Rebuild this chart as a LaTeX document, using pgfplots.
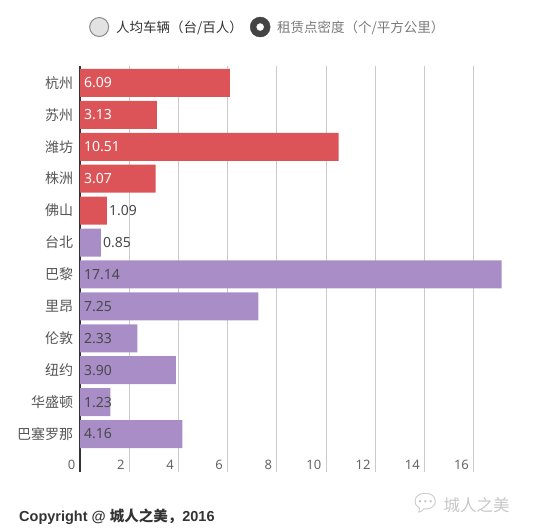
\documentclass[border=0pt]{standalone}
\usepackage{fontspec}
\setmainfont{Noto Sans}
\newfontfamily\cjk{Noto Sans CJK SC}
\newfontfamily\boldsans{Liberation Sans}
\newfontfamily\emoji{Noto Emoji}
\usepackage{pgfplots}
\pgfplotsset{compat=1.18}
\definecolor{barred}{HTML}{DC5458}
\definecolor{barpurple}{HTML}{A98DC7}
\definecolor{gridgray}{HTML}{CACACA}
\definecolor{labdark}{HTML}{4A4A4A}
\definecolor{tickgray}{HTML}{666666}
\definecolor{catgray}{HTML}{555555}
\definecolor{lgfill}{HTML}{E2E2E2}
\definecolor{lgline}{HTML}{8A8A8A}
\definecolor{lgdark}{HTML}{444444}
\definecolor{lgtext}{HTML}{333333}
\definecolor{lgtexttwo}{HTML}{7A7A7A}
\begin{document}
\begin{tikzpicture}
\path[use as bounding box] (0,0) rectangle (535pt,530pt);
\begin{axis}[
  at={(80pt,58pt)}, anchor=south west,
  scale only axis, width=442.8pt, height=406pt,
  xmin=0, xmax=18, ymin=-0.53, ymax=12.19, y dir=reverse,
  axis x line*=bottom, axis y line*=left,
  x axis line style={draw=none},
  y axis line style={draw=black!80, line width=1.4pt},
  xtick={0,2,...,16}, ytick={0,...,11},
  yticklabels={杭州,苏州,潍坊,株洲,佛山,台北,巴黎,里昂,伦敦,纽约,华盛顿,巴塞罗那},
  major tick length=0pt,
  xmajorgrids, grid style={draw=gridgray, line width=0.9pt},
  /pgf/number format/assume math mode=true,
  xticklabel style={anchor=base east, inner sep=0pt, xshift=-4.5pt, yshift=3pt,
     font=\fontsize{13}{13}\selectfont, text=tickgray},
  yticklabel style={font=\cjk\fontsize{14}{16}\selectfont, text=catgray, xshift=-3.3pt},
  legend style={at={(axis description cs:0.0203,1.096)}, anchor=west, draw=none, fill=none,
     inner sep=0pt, font=\cjk\fontsize{13.5}{15}\selectfont,
     /tikz/every even column/.append style={column sep=5pt}},
  legend columns=2, legend cell align=left,
]
\addplot[xbar, bar shift=0pt, bar width=28pt, fill=barred, draw=none, forget plot]
  coordinates {(6.09,0) (3.13,1) (10.51,2) (3.07,3) (1.09,4)};
\addplot[xbar, bar shift=0pt, bar width=28pt, fill=barpurple, draw=none, forget plot]
  coordinates {(0.85,5) (17.14,6) (7.25,7) (2.33,8) (3.90,9) (1.23,10) (4.16,11)};
% value labels inside red bars
\addplot[draw=none, mark=none, forget plot, nodes near coords, point meta=explicit symbolic,
  nodes near coords style={anchor=west, inner sep=0pt, xshift=4pt, text=white,
     font=\fontsize{14}{14}\selectfont}]
  coordinates {(0,0) [6.09] (0,1) [3.13] (0,2) [10.51] (0,3) [3.07]};
% value labels inside purple bars
\addplot[draw=none, mark=none, forget plot, nodes near coords, point meta=explicit symbolic,
  nodes near coords style={anchor=west, inner sep=0pt, xshift=4pt, text=labdark,
     font=\fontsize{14}{14}\selectfont}]
  coordinates {(0,6) [17.14] (0,7) [7.25] (0,8) [2.33] (0,9) [3.90] (0,10) [1.23] (0,11) [4.16]};
% value labels outside short bars
\addplot[draw=none, mark=none, forget plot, nodes near coords, point meta=explicit symbolic,
  nodes near coords style={anchor=west, inner sep=0pt, xshift=2pt, text=labdark,
     font=\fontsize{14}{14}\selectfont}]
  coordinates {(1.09,4) [1.09] (0.85,5) [0.85]};
\addlegendimage{legend image code/.code={\path[draw=none, fill=none] (0pt,-10pt) rectangle (25pt,10pt); \draw[fill=lgfill, draw=lgline, line width=1pt] (10pt,0pt) circle (9.5pt);}}
\addlegendentry{\textcolor{lgtext}{人均车辆（台/百人）}}
\addlegendimage{legend image code/.code={\path[draw=none, fill=none] (0pt,-10pt) rectangle (25pt,10pt); \fill[lgdark] (10pt,0pt) circle (10pt); \fill[white] (10pt,0pt) circle (3.5pt);}}
\addlegendentry{\textcolor{lgtexttwo}{租赁点密度（个/平方公里）}}
\end{axis}
\node[anchor=base west, inner sep=0pt, text=black!80, font=\boldsans\bfseries\fontsize{14.5}{15}\selectfont]
  at (19pt,9pt) {Copyright @ {\cjk\bfseries 城人之美，}2016};
\node[anchor=west, inner sep=0pt, text=black!22, font=\fontsize{16.5}{16.5}\selectfont]
  at (410pt,27pt) {{\emoji\fontsize{24}{24}\selectfont 💬}\hspace{3pt}{\cjk 城人之美}};
\end{tikzpicture}
\end{document}
